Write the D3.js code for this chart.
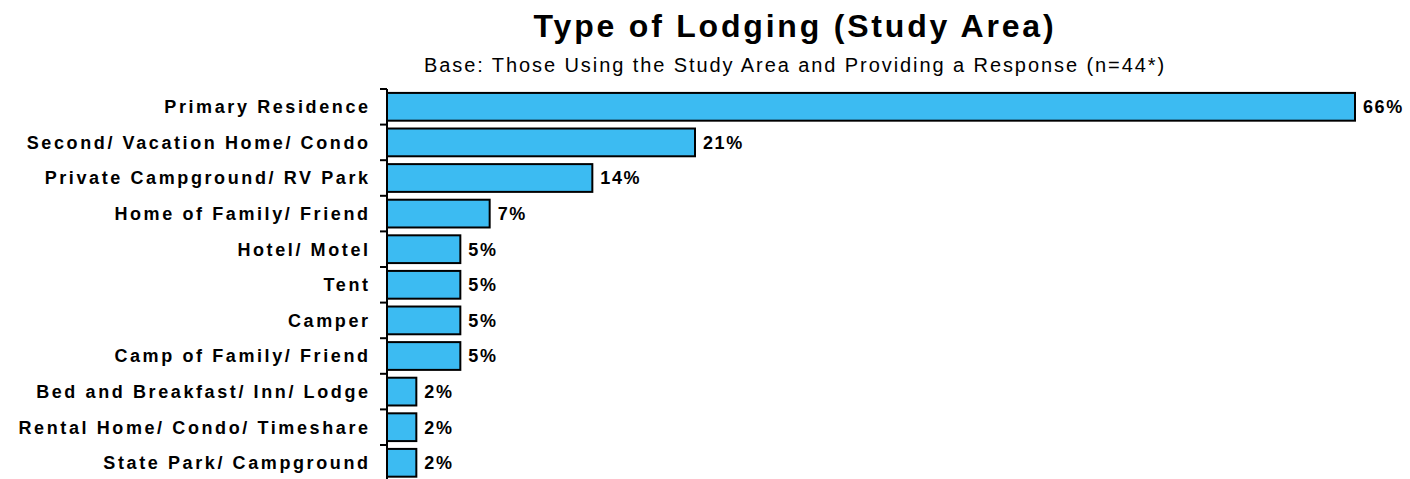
<!DOCTYPE html>
<html>
<head>
<meta charset="utf-8">
<script src="https://cdn.jsdelivr.net/npm/d3@7"></script>
<style>
  html, body { margin: 0; padding: 0; background: #fff; }
  svg { display: block; font-family: "Liberation Sans", Arial, sans-serif; }
</style>
</head>
<body>
<svg id="chart" width="1410" height="479"></svg>
<script>
const categories = [
  "Primary Residence",
  "Second/ Vacation Home/ Condo",
  "Private Campground/ RV Park",
  "Home of Family/ Friend",
  "Hotel/ Motel",
  "Tent",
  "Camper",
  "Camp of Family/ Friend",
  "Bed and Breakfast/ Inn/ Lodge",
  "Rental Home/ Condo/ Timeshare",
  "State Park/ Campground"
];
const values = [66, 21, 14, 7, 5, 5, 5, 5, 2, 2, 2];
const valueLabels = ["66%", "21%", "14%", "7%", "5%", "5%", "5%", "5%", "2%", "2%", "2%"];
const titleText = "Type of Lodging (Study Area)";
const subtitleText = "Base: Those Using the Study Area and Providing a Response (n=44*)";

const svg = d3.select("#chart");
const axisX = 387;

const x = d3.scaleLinear().domain([0, 66]).range([axisX, 1355]);
const y = d3.scaleBand().domain(categories).range([89, 480.6]).paddingInner(0.22).paddingOuter(0.11);

// title
svg.append("text")
  .attr("x", 795).attr("y", 37)
  .attr("text-anchor", "middle")
  .attr("font-size", 32).attr("font-weight", "bold")
  .attr("letter-spacing", 2.8)
  .attr("fill", "#000")
  .text(titleText);

svg.append("text")
  .attr("x", 795).attr("y", 72)
  .attr("text-anchor", "middle")
  .attr("font-size", 20)
  .attr("letter-spacing", 1.92)
  .attr("fill", "#000")
  .text(subtitleText);

// bars
svg.append("g").selectAll("rect").data(categories).join("rect")
  .attr("x", axisX)
  .attr("y", d => y(d))
  .attr("width", (d, i) => x(values[i]) - axisX)
  .attr("height", y.bandwidth())
  .attr("fill", "#3CBBF2")
  .attr("stroke", "#000")
  .attr("stroke-width", 2);

// value labels
svg.append("g").selectAll("text").data(categories).join("text")
  .attr("x", (d, i) => x(values[i]) + 8)
  .attr("y", d => y(d) + y.bandwidth() / 2)
  .attr("dy", "0.36em")
  .attr("font-size", 18).attr("font-weight", "bold")
  .attr("letter-spacing", 1.6)
  .text((d, i) => valueLabels[i]);

// axis
const axis = d3.axisLeft(y).tickSize(0).tickPadding(16.4);
const ag = svg.append("g").attr("transform", `translate(${axisX},0)`).call(axis);
ag.select(".domain").remove();
ag.selectAll("text")
  .attr("font-size", 18).attr("font-weight", "bold")
  .attr("font-family", "Liberation Sans, Arial, sans-serif")
  .attr("letter-spacing", 2.6)
  .attr("dy", "0.36em")
  .attr("fill", "#000");

const step = y.step();
const r0 = y.range()[0];
const bounds = d3.range(categories.length + 1).map(i => r0 + i * step);
svg.append("line")
  .attr("x1", axisX).attr("x2", axisX)
  .attr("y1", bounds[0]).attr("y2", bounds[bounds.length - 1])
  .attr("stroke", "#000").attr("stroke-width", 2);
svg.append("g").selectAll("line").data(bounds).join("line")
  .attr("x1", axisX - 7).attr("x2", axisX)
  .attr("y1", d => d).attr("y2", d => d)
  .attr("stroke", "#000").attr("stroke-width", 2);
</script>
</body>
</html>
